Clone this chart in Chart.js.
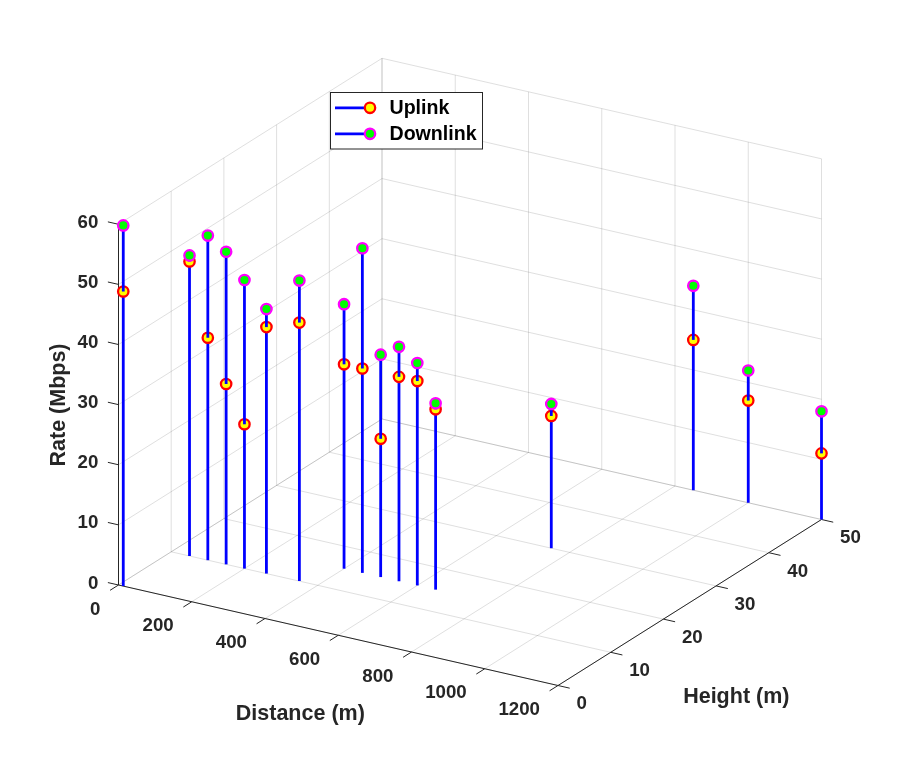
<!DOCTYPE html>
<html>
<head>
<meta charset="utf-8">
<script src="https://cdn.jsdelivr.net/npm/chart.js@4.4.1/dist/chart.umd.min.js"></script>
<style>
html,body{margin:0;padding:0;background:#ffffff;}
#wrap{width:908px;height:771px;}
canvas{display:block;}
</style>
</head>
<body>
<div id="wrap"><canvas id="c" width="908" height="771"></canvas></div>
<script>
// ---------------- data ----------------
const distance = [13, 50, 100, 150, 200, 260, 350, 400, 450, 500, 550, 600, 650, 750, 850, 1000, 1200];
const height   = [0, 10, 10, 10, 10, 10, 10, 15, 15, 15, 15, 15, 15, 30, 50, 50, 50];
const uplink   = [49, 49, 37, 30, 24, 41, 43, 34, 34, 23, 34, 34, 30, 22, 25, 17, 11];
const downlink = [60, 50, 54, 52, 48, 44, 50, 44, 54, 37, 39, 37, 31, 24, 34, 22, 18];

const distanceTicks = [0, 200, 400, 600, 800, 1000, 1200];
const heightTicks   = [0, 10, 20, 30, 40, 50];
const rateTicks     = [0, 10, 20, 30, 40, 50, 60];

const seriesNames = ['Uplink', 'Downlink'];
const xTitle = 'Distance (m)';
const yTitle = 'Height (m)';
const zTitle = 'Rate (Mbps)';

// ---------------- 3D view (orthographic, MATLAB default view) ----------------
const X_MAX = distanceTicks[distanceTicks.length - 1];
const Y_MAX = heightTicks[heightTicks.length - 1];
const Z_MAX = rateTicks[rateTicks.length - 1];
const VIEW = { ox: 118.5, oy: 585, ex: [439.5, 100.5], ey: [263.5, -166], ez: [0, -360.7] };
function proj(x, y, z) {
  const a = x / X_MAX, b = y / Y_MAX, c = z / Z_MAX;
  return {
    x: VIEW.ox + a * VIEW.ex[0] + b * VIEW.ey[0] + c * VIEW.ez[0],
    y: VIEW.oy + a * VIEW.ex[1] + b * VIEW.ey[1] + c * VIEW.ez[1]
  };
}

const W = 908, H = 771;
const BLUE = '#0000ff';
const GRID = 'rgba(38,38,38,0.15)';
const AXIS = '#262626';
const TXT = '#262626';
const FONT = '"Liberation Sans", Arial, Helvetica, sans-serif';
const STEM_W = 2.8;

// ---------------- datasets ----------------
const datasets = [];
// downlink markers (top-most)
datasets.push({
  label: seriesNames[1],
  data: distance.map((d, i) => proj(d, height[i], downlink[i])),
  showLine: false,
  pointRadius: 5.2,
  pointHoverRadius: 5.2,
  pointBorderWidth: 2.3,
  pointBackgroundColor: '#00ff00',
  pointBorderColor: '#ff00ff',
  order: 0
});
// upper stem parts (uplink -> downlink), drawn over the uplink markers
distance.forEach((d, i) => {
  datasets.push({
    label: 'stemUp' + i,
    data: [proj(d, height[i], uplink[i]), proj(d, height[i], downlink[i])],
    showLine: true,
    borderColor: BLUE,
    borderWidth: STEM_W,
    pointRadius: 0,
    pointHoverRadius: 0,
    fill: false,
    order: 1
  });
});
// uplink markers
datasets.push({
  label: seriesNames[0],
  data: distance.map((d, i) => proj(d, height[i], uplink[i])),
  showLine: false,
  pointRadius: 5.2,
  pointHoverRadius: 5.2,
  pointBorderWidth: 2.3,
  pointBackgroundColor: '#ffff00',
  pointBorderColor: '#ff0000',
  order: 2
});
// lower stem parts (0 -> uplink)
distance.forEach((d, i) => {
  datasets.push({
    label: 'stemLow' + i,
    data: [proj(d, height[i], 0), proj(d, height[i], uplink[i])],
    showLine: true,
    borderColor: BLUE,
    borderWidth: STEM_W,
    pointRadius: 0,
    pointHoverRadius: 0,
    fill: false,
    order: 3
  });
});

// ---------------- box / axes plugin ----------------
const box3d = {
  id: 'box3d',
  beforeDatasetsDraw(chart) {
    const ctx = chart.ctx, sx = chart.scales.x, sy = chart.scales.y;
    const P = (x, y, z) => { const p = proj(x, y, z); return [sx.getPixelForValue(p.x), sy.getPixelForValue(p.y)]; };
    const line = (a, b, color, w) => {
      ctx.beginPath(); ctx.strokeStyle = color; ctx.lineWidth = w;
      ctx.moveTo(a[0], a[1]); ctx.lineTo(b[0], b[1]); ctx.stroke();
    };
    ctx.save();
    // grid
    distanceTicks.forEach(t => {
      line(P(t, 0, 0), P(t, Y_MAX, 0), GRID, 1);
      line(P(t, Y_MAX, 0), P(t, Y_MAX, Z_MAX), GRID, 1);
    });
    heightTicks.forEach(t => {
      line(P(0, t, 0), P(X_MAX, t, 0), GRID, 1);
      line(P(0, t, 0), P(0, t, Z_MAX), GRID, 1);
    });
    rateTicks.forEach(t => {
      line(P(0, 0, t), P(0, Y_MAX, t), GRID, 1);
      line(P(0, Y_MAX, t), P(X_MAX, Y_MAX, t), GRID, 1);
    });
    // axis lines
    line(P(0, 0, 0), P(X_MAX, 0, 0), AXIS, 1);
    line(P(X_MAX, 0, 0), P(X_MAX, Y_MAX, 0), AXIS, 1);
    line(P(0, 0, 0), P(0, 0, Z_MAX), AXIS, 1);
    // tick marks
    distanceTicks.forEach(t => line(P(t, 0, 0), P(t, -1.6, 0), AXIS, 1));
    heightTicks.forEach(t => line(P(X_MAX, t, 0), P(X_MAX + 32, t, 0), AXIS, 1));
    rateTicks.forEach(t => line(P(0, 0, t), P(-29, 0, t), AXIS, 1));
    // tick labels
    ctx.fillStyle = TXT;
    ctx.font = 'bold 18.7px ' + FONT;
    ctx.textBaseline = 'middle';
    ctx.textAlign = 'right';
    distanceTicks.forEach(t => { const p = P(t, 0, 0); ctx.fillText(String(t), p[0] - 18, p[1] + 24.5); });
    rateTicks.forEach(t => { const p = P(0, 0, t); ctx.fillText(String(t), p[0] - 20.2, p[1] - 1.6); });
    ctx.textAlign = 'left';
    heightTicks.forEach(t => { const p = P(X_MAX, t, 0); ctx.fillText(String(t), p[0] + 18.5, p[1] + 18.7); });
    // axis titles
    ctx.font = 'bold 21.5px ' + FONT;
    ctx.textAlign = 'center';
    ctx.fillText(xTitle, 300.3, 713.7);
    ctx.fillText(yTitle, 736.3, 697.5);
    ctx.save();
    ctx.translate(59.2, 405);
    ctx.rotate(-Math.PI / 2);
    ctx.fillText(zTitle, 0, 0);
    ctx.restore();
    ctx.restore();
  },
  afterDatasetsDraw(chart) {
    const ctx = chart.ctx;
    ctx.save();
    // legend box
    ctx.fillStyle = '#ffffff';
    ctx.fillRect(330.5, 92.5, 152, 56.5);
    ctx.strokeStyle = AXIS; ctx.lineWidth = 1;
    ctx.strokeRect(330.5, 92.5, 152, 56.5);
    const rows = [
      { name: seriesNames[0], y: 107.8, face: '#ffff00', edge: '#ff0000' },
      { name: seriesNames[1], y: 133.8, face: '#00ff00', edge: '#ff00ff' }
    ];
    rows.forEach(r => {
      ctx.beginPath(); ctx.strokeStyle = BLUE; ctx.lineWidth = STEM_W;
      ctx.moveTo(335, r.y); ctx.lineTo(370, r.y); ctx.stroke();
      ctx.beginPath(); ctx.arc(370, r.y, 5.2, 0, Math.PI * 2);
      ctx.fillStyle = r.face; ctx.fill();
      ctx.lineWidth = 2.3; ctx.strokeStyle = r.edge; ctx.stroke();
      ctx.fillStyle = '#000000';
      ctx.font = 'bold 19.6px ' + FONT;
      ctx.textAlign = 'left'; ctx.textBaseline = 'middle';
      ctx.fillText(r.name, 389.5, r.y + 0.8);
    });
    ctx.restore();
  }
};

new Chart(document.getElementById('c'), {
  type: 'scatter',
  data: { datasets },
  options: {
    responsive: false,
    animation: false,
    events: [],
    layout: { padding: 0, autoPadding: false },
    scales: {
      x: { type: 'linear', min: 0, max: W, display: false },
      y: { type: 'linear', min: 0, max: H, reverse: true, display: false }
    },
    plugins: { legend: { display: false }, tooltip: { enabled: false } },
    elements: { line: { tension: 0 } }
  },
  plugins: [box3d]
});
</script>
</body>
</html>
